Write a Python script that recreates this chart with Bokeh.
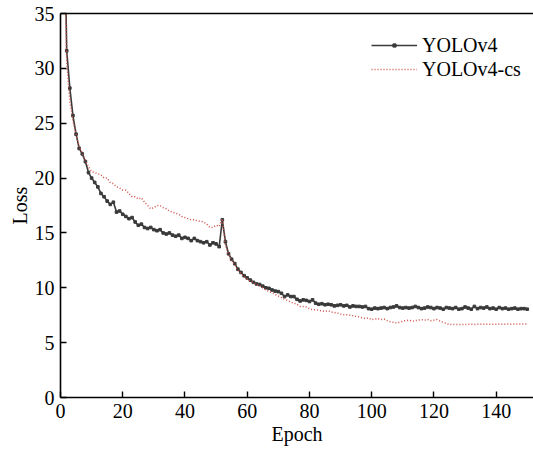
from bokeh.plotting import figure
from bokeh.models import LinearAxis, Range1d, FixedTicker, Legend, LegendItem
from bokeh.embed import file_html
from bokeh.resources import INLINE

epochs = list(range(1, 151))

yolov4 = [
    48.0, 31.6, 28.2, 25.7, 24.0, 22.7, 22.2, 21.5, 20.5, 20.0,
    19.6, 19.2, 18.6, 18.3, 17.9, 17.6, 17.8, 16.9, 17.0, 16.7,
    16.5, 16.3, 16.4, 16.0, 15.7, 15.8, 15.5, 15.4, 15.5, 15.3,
    15.2, 15.3, 15.0, 14.9, 15.0, 14.8, 14.7, 14.8, 14.5, 14.6,
    14.5, 14.3, 14.5, 14.3, 14.2, 14.1, 14.2, 13.9, 14.1, 14.0,
    13.75, 16.2, 14.2, 13.1, 12.6, 12.2, 11.7, 11.4, 11.1, 10.9,
    10.7, 10.5, 10.35, 10.3, 10.15, 10.0, 9.95, 9.8, 9.7, 9.65,
    9.5, 9.2, 9.35, 9.2, 9.2, 8.95, 8.8, 8.9, 8.85, 8.75,
    8.9, 8.6, 8.5, 8.55, 8.45, 8.5, 8.45, 8.35, 8.4, 8.45,
    8.35, 8.4, 8.25, 8.35, 8.3, 8.3, 8.25, 8.3, 8.1, 8.05,
    8.15, 8.1, 8.15, 8.2, 8.1, 8.2, 8.25, 8.35, 8.2, 8.15,
    8.2, 8.15, 8.2, 8.3, 8.2, 8.1, 8.15, 8.25, 8.2, 8.1,
    8.2, 8.15, 8.05, 8.2, 8.15, 8.1, 8.2, 8.05, 8.1, 8.25,
    8.15, 8.05, 8.3, 8.1, 8.2, 8.15, 8.25, 8.1, 8.15, 8.05,
    8.2, 8.1, 8.15, 8.05, 8.1, 8.15, 8.05, 8.1, 8.1, 8.05,
]

yolov4_cs = [
    45.0, 30.5, 27.0, 25.2, 24.0, 22.9, 22.3, 21.6, 21.0, 20.6,
    20.5, 20.4, 20.3, 20.0, 20.0, 19.6, 19.5, 19.2, 19.1, 18.9,
    18.9, 18.6, 18.3, 18.3, 18.1, 18.2, 17.8, 17.5, 17.2, 17.3,
    17.5, 17.5, 17.3, 17.2, 17.0, 16.9, 16.8, 16.7, 16.5, 16.4,
    16.3, 16.2, 16.2, 16.1, 16.05, 16.0, 15.8, 15.5, 15.5, 15.7,
    15.6, 16.3, 13.9, 13.0, 12.5, 12.1, 11.6, 11.3, 11.0, 10.8,
    10.6, 10.45, 10.3, 10.2, 10.0, 9.8, 9.66, 9.55, 9.4, 9.25,
    9.1, 8.95, 8.85, 8.7, 8.6, 8.5, 8.3, 8.3, 8.25, 8.1,
    8.0, 8.0, 7.95, 7.9, 7.85, 7.9, 7.8, 7.75, 7.7, 7.6,
    7.55, 7.55, 7.5, 7.45, 7.4, 7.35, 7.25, 7.2, 7.25, 7.1,
    7.15, 7.2, 7.1, 7.15, 7.0, 6.9, 6.85, 6.8, 6.85, 6.95,
    7.0, 7.05, 6.95, 7.0, 7.05, 7.1, 7.05, 7.1, 7.0, 7.05,
    7.1, 6.95, 6.85, 6.75, 6.65, 6.64, 6.65, 6.65, 6.66, 6.66,
    6.67, 6.67, 6.66, 6.67, 6.68, 6.67, 6.68, 6.68, 6.67, 6.68,
    6.69, 6.68, 6.69, 6.69, 6.68, 6.69, 6.7, 6.69, 6.7, 6.7,
]

x_ticks = [0, 20, 40, 60, 80, 100, 120, 140]
y_ticks = [0, 5, 10, 15, 20, 25, 30, 35]

FONT = "Liberation Serif"

p = figure(width=533, height=449, output_backend="svg", toolbar_location=None,
           x_range=Range1d(0, 152), y_range=Range1d(0, 35),
           min_border_left=60, min_border_right=0, min_border_top=13, min_border_bottom=52)
p.outline_line_color = None
p.grid.visible = False
p.background_fill_color = "white"

black = "#3a3a3a"
red = "#d0504a"

l1 = p.line(epochs, yolov4, line_color=black, line_width=1.6)
s1 = p.scatter(epochs, yolov4, marker="square", size=2.6, fill_color=black, line_color=black)
l2 = p.line(epochs, yolov4_cs, line_color=red, line_width=1.5, line_dash="1 2")

legend = Legend(items=[LegendItem(label="YOLOv4", renderers=[l1, s1]),
                       LegendItem(label="YOLOv4-cs", renderers=[l2])],
                location=(311, 316), border_line_color=None, background_fill_alpha=0,
                padding=0, margin=0, spacing=0, glyph_width=46, glyph_height=8,
                label_height=24, label_standoff=5,
                label_text_font=FONT, label_text_font_size="20px", label_text_color="black")
p.add_layout(legend)

for ax in (p.xaxis[0], p.yaxis[0]):
    ax.axis_line_width = 1.6
    ax.axis_line_color = "black"
    ax.major_tick_in = 6
    ax.major_tick_out = 0
    ax.minor_tick_line_color = None
    ax.major_tick_line_width = 1.4
    ax.major_label_text_font = FONT
    ax.major_label_text_font_size = "20px"
    ax.major_label_text_color = "black"
    ax.axis_label_text_font = FONT
    ax.axis_label_text_font_size = "20px"
    ax.axis_label_text_font_style = "normal"
    ax.axis_label_text_color = "black"

p.xaxis[0].ticker = FixedTicker(ticks=x_ticks)
p.yaxis[0].ticker = FixedTicker(ticks=y_ticks)
p.xaxis[0].axis_label = "Epoch"
p.yaxis[0].axis_label = "Loss"
p.xaxis[0].major_label_standoff = 6
p.xaxis[0].axis_label_standoff = 2
p.yaxis[0].major_label_standoff = 6
p.yaxis[0].axis_label_standoff = 1

top = LinearAxis(axis_line_width=1.6, axis_line_color="black",
                 major_tick_line_color=None, minor_tick_line_color=None,
                 major_label_text_font_size="0px")
top.ticker = FixedTicker(ticks=[])
p.add_layout(top, "above")

open("out.html", "w").write(file_html(p, INLINE))
